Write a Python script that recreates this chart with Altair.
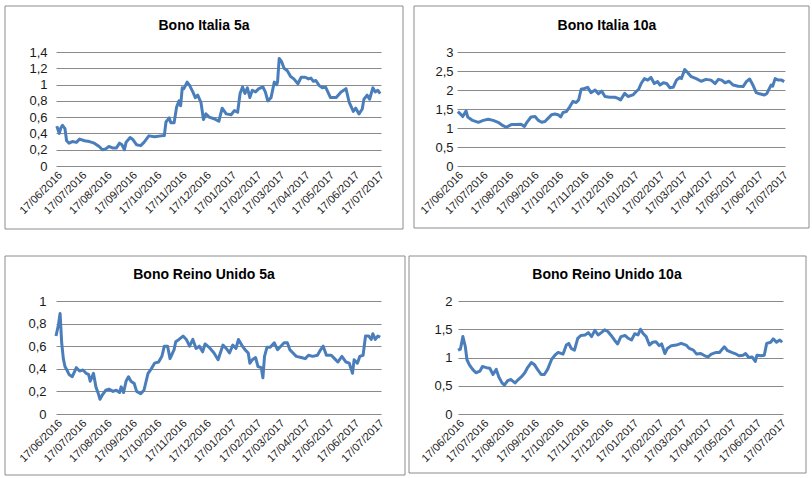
import altair as alt
import pandas as pd

START = "2016-06-17"
LINE_COLOR = "#4A7EBB"
GRID_COLOR = "#8A8A8A"
BORDER_COLOR = "#8C8C8C"
FONT = "Liberation Sans"

# ---- Bono Italia 5a (days since 17/06/2016, yield %) ----
it5_days = [1, 4, 6, 8, 11, 13, 16, 20, 25, 29, 35, 41, 47, 53, 57, 61, 65, 70, 74, 78, 81, 84, 86, 91, 94, 99, 104, 108,
            114, 121, 129, 133, 135, 139, 141, 145, 148, 151, 153, 155, 157, 161, 164, 168, 171, 174, 178, 181, 184, 188,
            194, 200, 204, 209, 215, 219, 223, 226, 229, 232, 235, 238, 241, 245, 249, 254, 257, 260, 264, 268, 271, 272,
            274, 277, 280, 284, 288, 292, 297, 301, 306, 310, 313, 316, 319, 323, 327, 331, 337, 344, 350, 356, 360, 365,
            368, 372, 376, 378, 382, 385, 389, 392, 395, 398]
it5_vals = [0.49, 0.40, 0.47, 0.50, 0.46, 0.31, 0.28, 0.30, 0.29, 0.33, 0.31, 0.30, 0.28, 0.24, 0.20, 0.21, 0.24, 0.22, 0.22,
            0.28, 0.26, 0.20, 0.29, 0.35, 0.33, 0.26, 0.25, 0.29, 0.37, 0.36, 0.37, 0.375, 0.54, 0.59, 0.53, 0.53, 0.72,
            0.80, 0.74, 0.96, 0.95, 1.03, 0.99, 0.91, 0.84, 0.87, 0.78, 0.57, 0.64, 0.60, 0.58, 0.55, 0.71, 0.64, 0.63,
            0.68, 0.66, 0.89, 0.97, 0.89, 0.96, 0.84, 0.93, 0.91, 0.95, 0.97, 0.91, 0.80, 0.84, 1.03, 1.00, 1.03, 1.32,
            1.28, 1.20, 1.17, 1.10, 1.07, 1.01, 1.09, 1.09, 1.07, 1.08, 1.04, 1.05, 0.99, 0.96, 0.97, 0.84, 0.84, 0.91,
            0.95, 0.78, 0.67, 0.71, 0.64, 0.70, 0.82, 0.87, 0.82, 0.96, 0.91, 0.93, 0.89]

# ---- Bono Italia 10a ----
it10_days = [1, 5, 7, 11, 13, 19, 26, 32, 38, 44, 50, 56, 60, 66, 72, 78, 82, 85, 90, 95, 99, 103, 107, 111, 115, 119,
             123, 126, 129, 133, 137, 141, 145, 148, 151, 155, 159, 163, 168, 172, 176, 180, 186, 192, 196, 199, 204,
             208, 214, 218, 221, 224, 228, 232, 236, 240, 244, 247, 251, 255, 259, 263, 267, 271, 273, 277, 281, 285,
             291, 297, 303, 309, 314, 318, 322, 326, 331, 336, 342, 348, 352, 356, 360, 364, 368, 374, 377, 382, 384,
             387, 391, 395, 398]
it10_vals = [1.43, 1.35, 1.30, 1.45, 1.29, 1.20, 1.15, 1.20, 1.23, 1.20, 1.15, 1.06, 1.02, 1.09, 1.09, 1.10, 1.04, 1.15,
             1.29, 1.30, 1.20, 1.15, 1.17, 1.26, 1.35, 1.37, 1.35, 1.29, 1.41, 1.43, 1.55, 1.70, 1.67, 1.74, 2.02, 2.04,
             2.07, 1.93, 2.00, 1.90, 1.97, 1.83, 1.81, 1.81, 1.78, 1.74, 1.91, 1.83, 1.87, 1.96, 2.02, 2.17, 2.30, 2.26,
             2.33, 2.17, 2.22, 2.13, 2.19, 2.17, 2.06, 2.07, 2.26, 2.33, 2.30, 2.54, 2.45, 2.35, 2.30, 2.23, 2.28, 2.26,
             2.17, 2.28, 2.26, 2.19, 2.23, 2.13, 2.10, 2.09, 2.22, 2.29, 2.13, 1.93, 1.90, 1.87, 1.91, 2.13, 2.10, 2.30,
             2.26, 2.26, 2.22]

# ---- Bono Reino Unido 5a ----
uk5_days = [0, 3, 5, 7, 9, 11, 14, 16, 20, 25, 29, 33, 37, 40, 42, 46, 49, 52, 54, 57, 61, 65, 70, 74, 78, 80, 83, 86,
            89, 92, 96, 99, 104, 108, 110, 113, 117, 121, 126, 130, 133, 137, 140, 145, 147, 151, 156, 160, 164, 168,
            172, 176, 180, 183, 188, 194, 199, 205, 209, 213, 217, 221, 224, 228, 232, 236, 238, 241, 245, 248, 252,
            254, 256, 259, 263, 268, 272, 276, 280, 284, 287, 291, 295, 301, 306, 310, 315, 321, 325, 328, 332, 338,
            342, 346, 351, 356, 360, 364, 366, 370, 373, 377, 380, 384, 387, 389, 392, 395, 398]
uk5_vals = [0.69, 0.79, 0.89, 0.63, 0.49, 0.42, 0.38, 0.35, 0.33, 0.41, 0.38, 0.39, 0.36, 0.35, 0.29, 0.36, 0.24, 0.18,
            0.13, 0.17, 0.21, 0.22, 0.20, 0.21, 0.19, 0.24, 0.19, 0.29, 0.33, 0.29, 0.27, 0.20, 0.18, 0.21, 0.27, 0.36,
            0.40, 0.45, 0.46, 0.51, 0.60, 0.60, 0.49, 0.57, 0.64, 0.66, 0.69, 0.66, 0.60, 0.66, 0.58, 0.60, 0.55, 0.62,
            0.59, 0.54, 0.48, 0.61, 0.58, 0.54, 0.61, 0.58, 0.66, 0.61, 0.57, 0.54, 0.45, 0.48, 0.50, 0.42, 0.41, 0.32,
            0.51, 0.59, 0.59, 0.63, 0.57, 0.60, 0.63, 0.63, 0.57, 0.54, 0.51, 0.50, 0.49, 0.52, 0.51, 0.52, 0.57, 0.60,
            0.52, 0.52, 0.49, 0.46, 0.51, 0.46, 0.45, 0.36, 0.48, 0.45, 0.51, 0.52, 0.69, 0.69, 0.66, 0.71, 0.66, 0.69,
            0.68]

# ---- Bono Reino Unido 10a ----
uk10_days = [0, 3, 6, 9, 11, 14, 18, 22, 27, 30, 35, 39, 43, 47, 50, 54, 57, 61, 65, 70, 74, 78, 82, 85, 90, 94, 98,
             102, 106, 110, 115, 119, 123, 129, 133, 136, 139, 143, 147, 151, 156, 160, 164, 168, 172, 176, 180, 184,
             188, 192, 196, 200, 205, 209, 213, 217, 221, 224, 227, 231, 235, 239, 243, 247, 250, 254, 257, 262, 268,
             274, 280, 284, 289, 293, 298, 303, 307, 311, 317, 321, 327, 331, 336, 340, 345, 350, 353, 357, 361, 365,
             367, 372, 376, 379, 384, 387, 391, 395, 398]
uk10_vals = [1.13, 1.15, 1.37, 1.19, 0.96, 0.87, 0.79, 0.73, 0.76, 0.84, 0.82, 0.81, 0.70, 0.79, 0.66, 0.55, 0.51, 0.59,
             0.61, 0.55, 0.61, 0.66, 0.73, 0.81, 0.91, 0.87, 0.78, 0.70, 0.70, 0.79, 0.97, 1.04, 1.09, 1.06, 1.22, 1.25,
             1.16, 1.13, 1.34, 1.39, 1.40, 1.44, 1.37, 1.48, 1.40, 1.44, 1.49, 1.46, 1.39, 1.31, 1.24, 1.37, 1.39, 1.34,
             1.31, 1.42, 1.40, 1.50, 1.43, 1.37, 1.22, 1.27, 1.28, 1.21, 1.24, 1.07, 1.16, 1.21, 1.22, 1.25, 1.22, 1.16,
             1.13, 1.06, 1.07, 1.03, 1.01, 1.06, 1.09, 1.09, 1.19, 1.12, 1.09, 1.07, 1.03, 1.04, 1.07, 1.00, 1.01, 0.93,
             1.04, 1.03, 1.04, 1.25, 1.27, 1.33, 1.27, 1.31, 1.27]

tick_months = [(2016, m) for m in range(6, 13)] + [(2017, m) for m in range(1, 8)]
month_ticks = [alt.DateTime(year=y, month=m, date=17, utc=True) for y, m in tick_months]
x_domain = [alt.DateTime(year=2016, month=6, date=17, utc=True),
            alt.DateTime(year=2017, month=7, date=21, utc=True)]


def make_df(days, vals):
    base = pd.Timestamp(START)
    return pd.DataFrame({
        "fecha": [(base + pd.Timedelta(days=d)).strftime("%Y-%m-%d") for d in days],
        "valor": vals,
    })


def panel(title, days, vals, ymax, ystep, w, h, box, tpos, ylabpad):
    nsteps = int(round(ymax / ystep))
    yticks = [round(i * ystep, 2) for i in range(nsteps + 1)]
    line = alt.Chart(make_df(days, vals)).mark_line(
        color=LINE_COLOR, strokeWidth=3, strokeJoin="round"
    ).encode(
        x=alt.X("fecha:T",
                scale=alt.Scale(type="utc", domain=x_domain, nice=False),
                axis=alt.Axis(values=month_ticks, format="%d/%m/%Y", labelAngle=-45,
                              grid=False, ticks=False, domain=False, title=None,
                              labelFontSize=11, labelColor="#1a1a1a", labelFont=FONT,
                              labelPadding=3, labelOverlap=False, labelFlush=False)),
        y=alt.Y("valor:Q",
                scale=alt.Scale(domain=[0, ymax], nice=False, zero=True),
                axis=alt.Axis(values=yticks,
                              labelExpr="replace(format(datum.value, '~g'), '.', ',')",
                              grid=True, gridColor=GRID_COLOR, gridWidth=1,
                              ticks=False, tickSize=0, domain=False, title=None,
                              labelFontSize=13, labelColor="#1a1a1a", labelFont=FONT,
                              labelPadding=ylabpad)),
    )
    border = alt.Chart(pd.DataFrame({"k": [0]})).mark_rect(
        fillOpacity=0, stroke=BORDER_COLOR, strokeWidth=1
    ).encode(x=alt.value(box[0]), x2=alt.value(box[1]), y=alt.value(box[2]), y2=alt.value(box[3]))
    ttl = alt.Chart(pd.DataFrame({"t": [title]})).mark_text(
        font=FONT, fontSize=14, fontWeight="bold", color="#000000", align="center", baseline="middle"
    ).encode(text="t:N", x=alt.value(tpos[0]), y=alt.value(tpos[1]))
    return alt.layer(border, line, ttl).properties(width=w, height=h)


p1 = panel("Bono Italia 5a", it5_days, it5_vals, 1.4, 0.2, 325, 114, (-51, 347, -46, 177), (148, -26), 9)
p2 = panel("Bono Italia 10a", it10_days, it10_vals, 3, 0.5, 328, 114, (-43, 352, -46, 176), (150, -26), 4)
p3 = panel("Bono Reino Unido 5a", uk5_days, uk5_vals, 1, 0.2, 325, 113, (-51, 349, -45, 174), (148, -26), 10)
p4 = panel("Bono Reino Unido 10a", uk10_days, uk10_vals, 2, 0.5, 325, 113, (-49, 348, -45, 172), (149, -26), 6)

top = alt.hconcat(p1, p2, spacing=9)
bottom = alt.hconcat(p3, p4, spacing=2)
chart = alt.vconcat(top, bottom, spacing=25).properties(
    padding={"left": 4, "top": 5, "right": 0, "bottom": 0},
    background="#ffffff",
).configure_view(strokeWidth=0)

chart.save("out.html", embed_options={"renderer": "svg", "actions": False})
